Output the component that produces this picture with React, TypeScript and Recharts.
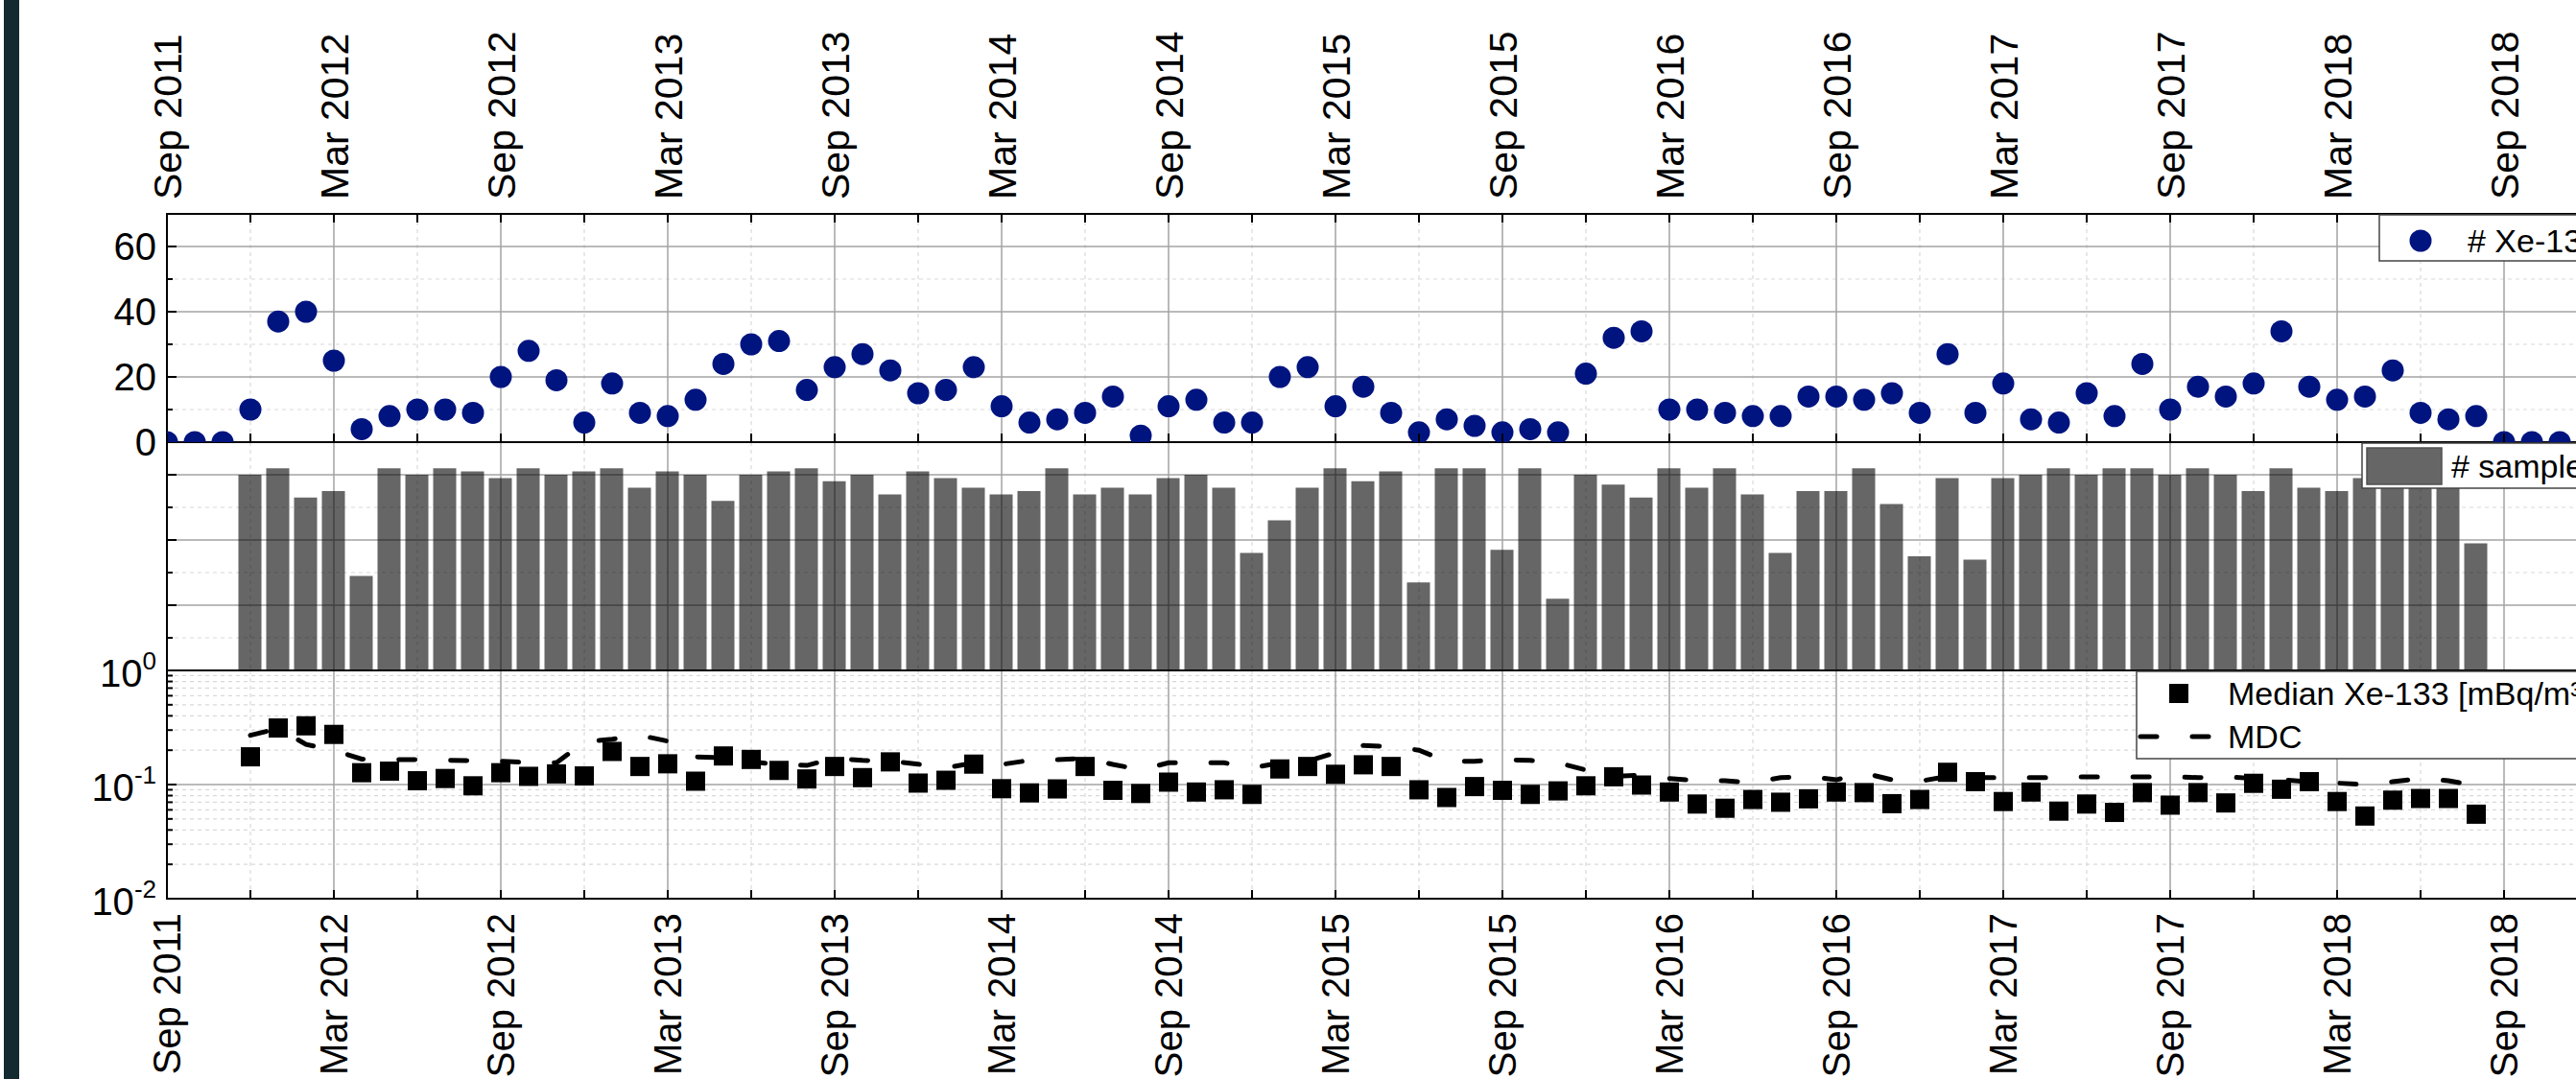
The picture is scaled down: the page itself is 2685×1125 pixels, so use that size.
import React from 'react';
import { ComposedChart, Line, Bar, XAxis, YAxis, CartesianGrid, ReferenceArea, Legend } from 'recharts';

// month index 0 = Sep 2011, one entry per month
const MONTHS = ['Jan', 'Feb', 'Mar', 'Apr', 'May', 'Jun', 'Jul', 'Aug', 'Sep', 'Oct', 'Nov', 'Dec'];
const START_YEAR = 2011;
const START_MONTH = 8;
const FIRST_SAMPLE = 3; // Dec 2011

const xeDetections = [
  0, 0, 0, 10, 37, 40, 25, 4, 8, 10,
  10, 9, 20, 28, 19, 6, 18, 9, 8, 13,
  24, 30, 31, 16, 23, 27, 22, 15, 16, 23,
  11, 6, 7, 9, 14, 2, 11, 13, 6, 6,
  20, 23, 11, 17, 9, 3, 7, 5, 3, 4,
  3, 21, 32, 34, 10, 10, 9, 8, 8, 14,
  14, 13, 15, 9, 27, 9, 18, 7, 6, 15,
  8, 24, 10, 17, 14, 18, 34, 17, 13, 14,
  22, 9, 7, 8, 0, 0, 0, 0, 0,
];

const samplesPerMonth = [
  60, 62, 53, 55, 29, 62, 60, 62, 61, 59,
  62, 60, 61, 62, 56, 61, 60, 52, 60, 61,
  62, 58, 60, 54, 61, 59, 56, 54, 55, 62,
  54, 56, 54, 59, 60, 56, 36, 46, 56, 62,
  58, 61, 27, 62, 62, 37, 62, 22, 60, 57,
  53, 62, 56, 62, 54, 36, 55, 55, 62, 51,
  35, 59, 34, 59, 60, 62, 60, 62, 62, 60,
  62, 60, 55, 62, 56, 55, 59, 60, 60, 60,
  39,
];

const medianXe133 = [
  0.175, 0.313, 0.327, 0.275, 0.127, 0.131, 0.108, 0.113, 0.0975, 0.127,
  0.118, 0.124, 0.119, 0.195, 0.144, 0.152, 0.107, 0.178, 0.166, 0.133,
  0.112, 0.144, 0.115, 0.158, 0.103, 0.109, 0.151, 0.092, 0.0845, 0.0916,
  0.144, 0.089, 0.0835, 0.105, 0.086, 0.09, 0.082, 0.137, 0.144, 0.123,
  0.149, 0.144, 0.09, 0.077, 0.096, 0.089, 0.082, 0.088, 0.0975, 0.117,
  0.099, 0.086, 0.0675, 0.062, 0.074, 0.07, 0.075, 0.086, 0.085, 0.068,
  0.074, 0.128, 0.106, 0.071, 0.086, 0.0585, 0.0675, 0.057, 0.085, 0.066,
  0.085, 0.069, 0.1025, 0.091, 0.106, 0.071, 0.053, 0.073, 0.0755, 0.0755,
  0.055,
];

const mdcXe133 = [
  0.27, 0.31, 0.225, 0.2, 0.167, 0.166, 0.165, 0.163, 0.162, 0.16,
  0.156, 0.155, 0.236, 0.25, 0.27, 0.24, 0.175, 0.172, 0.158, 0.15,
  0.147, 0.17, 0.163, 0.16, 0.151, 0.14, 0.155, 0.15, 0.163, 0.165,
  0.17, 0.15, 0.135, 0.155, 0.155, 0.155, 0.14, 0.155, 0.16, 0.19,
  0.22, 0.215, 0.2, 0.16, 0.16, 0.165, 0.163, 0.155, 0.134, 0.118,
  0.121, 0.113, 0.108, 0.108, 0.104, 0.115, 0.118, 0.11, 0.126, 0.11,
  0.107, 0.118, 0.115, 0.115, 0.115, 0.115, 0.117, 0.117, 0.117, 0.117,
  0.115, 0.117, 0.113, 0.11, 0.106, 0.103, 0.1, 0.106, 0.113, 0.108,
  0.098,
];

const quarterTicks = [0, 3, 6, 9, 12, 15, 18, 21, 24, 27, 30, 33, 36, 39, 42, 45, 48, 51, 54, 57, 60, 63, 66, 69, 72, 75, 78, 81, 84, 87];
const halfYearTicks = [0, 6, 12, 18, 24, 30, 36, 42, 48, 54, 60, 66, 72, 78, 84];
const minorQuarterTicks = [3, 9, 15, 21, 27, 33, 39, 45, 51, 57, 63, 69, 75, 81, 87];
const countTicks = [0, 10, 20, 30, 40, 50, 60, 70];
const logTicks = [0.01, 0.02, 0.03, 0.04, 0.05, 0.06, 0.07, 0.08, 0.09, 0.1, 0.2, 0.3, 0.4, 0.5, 0.6, 0.7, 0.8, 0.9, 1];
const logMinor = [0.02, 0.03, 0.04, 0.05, 0.06, 0.07, 0.08, 0.09, 0.2, 0.3, 0.4, 0.5, 0.6, 0.7, 0.8, 0.9];

const rows = xeDetections.map((xe, m) => {
  const k = m - FIRST_SAMPLE;
  const has = k >= 0 && k < samplesPerMonth.length;
  return {
    m,
    xe,
    samples: has ? samplesPerMonth[k] : null,
    median: has ? medianXe133[k] : null,
    mdc: has ? mdcXe133[k] : null,
  };
});

const FONT = '"Liberation Sans", Arial, Helvetica, sans-serif';
const W = 2800;
const PLOT_H = 238;
const MARGIN_X = { left: 74, right: 16 };
const Y_W = 100;
const NAVY = '#001480';
const X_DOMAIN = [0, 90];
const LEGEND_FONT = 34;

const monthLabel = (m: number) => {
  const t = START_MONTH + m;
  return `${MONTHS[t % 12]} ${START_YEAR + Math.floor(t / 12)}`;
};

const TopTick = (props: any) => {
  const { x, y, payload } = props;
  const m = payload.value;
  const ly = y - 15;
  return (
    <g>
      <line x1={x} y1={y} x2={x} y2={y + 9} stroke="#000" strokeWidth={2} />
      <line x1={x} y1={y + PLOT_H} x2={x} y2={y + PLOT_H - 9} stroke="#000" strokeWidth={2} />
      {m % 6 === 0 && (
        <text x={x} y={ly} transform={`rotate(-90 ${x} ${ly})`} textAnchor="start" dy="0.36em"
          fontSize={41} fontFamily={FONT} fill="#000">{monthLabel(m)}</text>
      )}
    </g>
  );
};

const EdgeTick = (props: any) => {
  const { x, y } = props;
  return <line x1={x} y1={y} x2={x} y2={y - 9} stroke="#000" strokeWidth={2} />;
};

const BottomTick = (props: any) => {
  const { x, y, payload } = props;
  const m = payload.value;
  const ly = y + 15;
  return (
    <g>
      <line x1={x} y1={y} x2={x} y2={y - 9} stroke="#000" strokeWidth={2} />
      {m % 6 === 0 && (
        <text x={x} y={ly} transform={`rotate(-90 ${x} ${ly})`} textAnchor="end" dy="0.36em"
          fontSize={40} fontFamily={FONT} fill="#000">{monthLabel(m)}</text>
      )}
    </g>
  );
};

const CountTick = (props: any) => {
  const { x, y, payload } = props;
  const v = payload.value;
  const labeled = v % 20 === 0;
  return (
    <g>
      {v > 0 && v < 70 && <line x1={x} y1={y} x2={x + (labeled ? 10 : 6)} y2={y} stroke="#000" strokeWidth={2} />}
      {props.showLabel && labeled && v < 70 && (
        <text x={x - 11} y={y} dy="0.36em" textAnchor="end" fontSize={40} fontFamily={FONT} fill="#000">{v}</text>
      )}
    </g>
  );
};

const LogTick = (props: any) => {
  const { x, y, payload } = props;
  const v = payload.value;
  const e = Math.round(Math.log10(v));
  const major = Math.abs(v - Math.pow(10, e)) < 1e-9;
  return (
    <g>
      {v > 0.0101 && v < 0.999 && <line x1={x} y1={y} x2={x + (major ? 10 : 6)} y2={y} stroke="#000" strokeWidth={2} />}
      {major && (
        <text x={x - 11} y={y} textAnchor="end" fontSize={40} fontFamily={FONT} fill="#000">
          <tspan dy="0.42em">10</tspan>
          <tspan dy="-0.7em" fontSize={26}>{e}</tspan>
        </text>
      )}
    </g>
  );
};

const circleDot = (p: any) =>
  p.cy == null || isNaN(p.cy) ? <g key={p.index} /> : <circle key={p.index} cx={p.cx} cy={p.cy} r={11.5} fill={NAVY} />;

const squareDot = (p: any) =>
  p.cy == null || isNaN(p.cy) ? <g key={p.index} /> : <rect key={p.index} x={p.cx - 10} y={p.cy - 10} width={20} height={20} fill="#000" />;

const LegendXe = () => (
  <svg width={360} height={50}>
    <rect x={1} y={1} width={356} height={48} fill="#fff" stroke="#444" strokeWidth={1.5} />
    <circle cx={44} cy={28} r={11.5} fill={NAVY} />
    <text x={93} y={28} dy="0.36em" fontSize={LEGEND_FONT} fontFamily={FONT} fill="#000"># Xe-133 detections</text>
  </svg>
);

const LegendSamples = () => (
  <svg width={320} height={50}>
    <rect x={1} y={1} width={316} height={47} fill="#fff" stroke="#444" strokeWidth={1.5} />
    <rect x={6} y={6} width={78} height={38} fill="#666" stroke="#505050" strokeWidth={1.5} />
    <text x={94} y={25} dy="0.36em" fontSize={LEGEND_FONT} fontFamily={FONT} fill="#000"># samples</text>
  </svg>
);

const LegendMedian = () => (
  <svg width={600} height={94}>
    <rect x={1} y={1} width={596} height={91} fill="#fff" stroke="#444" strokeWidth={1.5} />
    <rect x={35} y={14} width={20} height={20} fill="#000" />
    <text x={96} y={24} dy="0.36em" fontSize={LEGEND_FONT} fontFamily={FONT} fill="#000">Median Xe-133 [mBq/m³]</text>
    <line x1={5} y1={69} x2={85} y2={69} stroke="#000" strokeWidth={5} strokeLinecap="round" strokeDasharray="17 37" />
    <text x={96} y={69} dy="0.36em" fontSize={LEGEND_FONT} fontFamily={FONT} fill="#000">MDC</text>
  </svg>
);

const legendStyle = (left: number, top: number, width: number, height: number) => ({
  position: 'absolute' as const, left, top, width, height, margin: 0, padding: 0,
});

const solidGrid = { stroke: '#a3a3a3', strokeWidth: 1.5 };
const dotGrid = { stroke: '#d9d9d9', strokeWidth: 1.2, strokeDasharray: '4 4' };

export default function App() {
  return (
    <div style={{ position: 'absolute', left: 0, top: 0, width: 2685, height: 1125, overflow: 'hidden', background: '#fff' }}>
      {/* top panel: detections per month */}
      <div style={{ position: 'absolute', left: 0, top: 0 }}>
        <ComposedChart width={W} height={491} data={rows} margin={{ top: 23, right: MARGIN_X.right, bottom: 30, left: MARGIN_X.left }}>
          <CartesianGrid {...dotGrid} verticalValues={minorQuarterTicks} horizontalValues={[10, 30, 50]} />
          <CartesianGrid {...solidGrid} verticalValues={halfYearTicks} horizontalValues={[20, 40, 60]} />
          <XAxis orientation="top" dataKey="m" type="number" domain={X_DOMAIN} ticks={quarterTicks} allowDataOverflow
            height={200} interval={0} tickSize={0} tickMargin={0} axisLine={false} tickLine={false} tick={<TopTick />} />
          <YAxis type="number" domain={[0, 70]} ticks={countTicks} allowDataOverflow width={Y_W} interval={0}
            tickSize={0} tickMargin={0} axisLine={false} tickLine={false} tick={<CountTick showLabel />} />
          <ReferenceArea x1={0} x2={90} y1={0} y2={70} fill="none" stroke="#000" strokeWidth={2} ifOverflow="visible" />
          <Line dataKey="xe" stroke="none" dot={circleDot} activeDot={false} isAnimationActive={false} />
          <Legend verticalAlign="middle" align="center" layout="horizontal" content={() => <LegendXe />}
            wrapperStyle={legendStyle(2479, 223, 360, 50)} />
        </ComposedChart>
      </div>

      {/* middle panel: samples per month */}
      <div style={{ position: 'absolute', left: 0, top: 461 }}>
        <ComposedChart width={W} height={PLOT_H} data={rows} margin={{ top: 0, right: MARGIN_X.right, bottom: 0, left: MARGIN_X.left }}>
          <CartesianGrid {...dotGrid} verticalValues={minorQuarterTicks} horizontalValues={[10, 30, 50]} />
          <CartesianGrid {...solidGrid} verticalValues={halfYearTicks} horizontalValues={[20, 40, 60]} />
          <XAxis orientation="bottom" dataKey="m" type="number" domain={X_DOMAIN} ticks={quarterTicks} allowDataOverflow
            height={0} interval={0} tickSize={0} tickMargin={0} axisLine={false} tickLine={false} tick={<EdgeTick />} />
          <YAxis type="number" domain={[0, 70]} ticks={countTicks} allowDataOverflow width={Y_W} interval={0}
            tickSize={0} tickMargin={0} axisLine={false} tickLine={false} tick={<CountTick />} />
          <Bar dataKey="samples" barSize={24} fill="#000" fillOpacity={0.6} isAnimationActive={false} />
          <ReferenceArea x1={0} x2={90} y1={0} y2={70} fill="none" stroke="#000" strokeWidth={2} ifOverflow="visible" />
          <Legend verticalAlign="middle" align="center" layout="horizontal" content={() => <LegendSamples />}
            wrapperStyle={legendStyle(2461, 0, 320, 50)} />
        </ComposedChart>
      </div>

      {/* bottom panel: median activity concentration and MDC */}
      <div style={{ position: 'absolute', left: 0, top: 669 }}>
        <ComposedChart width={W} height={456} data={rows} margin={{ top: 30, right: MARGIN_X.right, bottom: 0, left: MARGIN_X.left }}>
          <CartesianGrid {...dotGrid} verticalValues={minorQuarterTicks} horizontalValues={logMinor} />
          <CartesianGrid {...solidGrid} verticalValues={halfYearTicks} horizontalValues={[0.1]} />
          <XAxis orientation="bottom" dataKey="m" type="number" domain={X_DOMAIN} ticks={quarterTicks} allowDataOverflow
            height={188} interval={0} tickSize={0} tickMargin={0} axisLine={false} tickLine={false} tick={<BottomTick />} />
          <YAxis type="number" scale="log" domain={[0.01, 1]} ticks={logTicks} allowDataOverflow width={Y_W} interval={0}
            tickSize={0} tickMargin={0} axisLine={false} tickLine={false} tick={<LogTick />} />
          <ReferenceArea x1={0} x2={90} y1={0.01} y2={1} fill="none" stroke="#000" strokeWidth={2} ifOverflow="visible" />
          <Line dataKey="mdc" stroke="#000" strokeWidth={5} strokeLinecap="round" strokeDasharray="17 37"
            dot={false} activeDot={false} isAnimationActive={false} />
          <Line dataKey="median" stroke="none" dot={squareDot} activeDot={false} isAnimationActive={false} />
          <Legend verticalAlign="middle" align="center" layout="horizontal" content={() => <LegendMedian />}
            wrapperStyle={legendStyle(2226, 30, 600, 94)} />
        </ComposedChart>
      </div>

      <div style={{ position: 'absolute', left: 4, top: 0, width: 16, height: 1125, background: '#122a30' }} />
    </div>
  );
}
